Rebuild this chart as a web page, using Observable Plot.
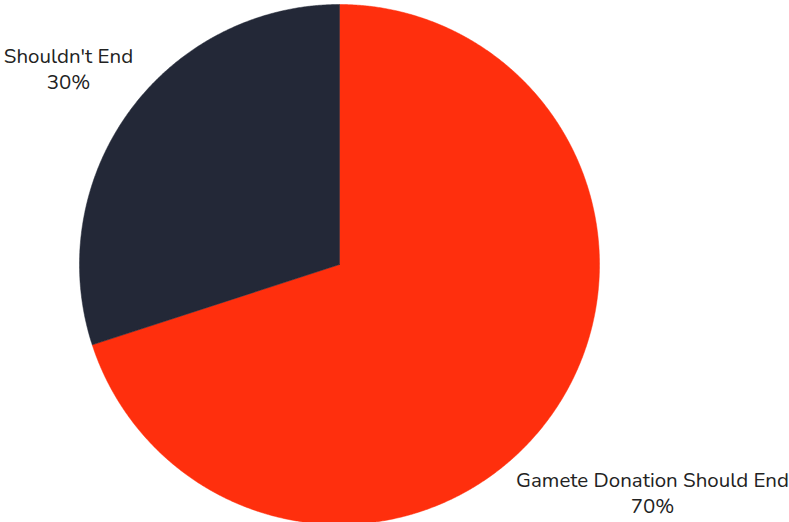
<!DOCTYPE html>
<html>
<head>
<meta charset="utf-8">
<script src="https://cdn.jsdelivr.net/npm/d3@7"></script>
<script src="https://cdn.jsdelivr.net/npm/@observablehq/plot@0.6"></script>
<style>
  html, body { margin: 0; padding: 0; background: #fff; }
  svg { display: block; }
</style>
</head>
<body>
<div id="chart"></div>
<script>
const labels = ["Gamete Donation Should End", "Shouldn't End"];
const values = [70, 30];
const colors = ["#FF2F0D", "#232837"];

const W = 789, H = 522;
const cx = 339, cy = 264, R = 260;

const pie = d3.pie().sort(null).value(d => d.value);
const arcs = pie(labels.map((l, i) => ({label: l, value: values[i]})));

const pts = [];
arcs.forEach(a => {
  const n = Math.max(4, Math.ceil((a.endAngle - a.startAngle) / 0.005));
  pts.push({label: a.data.label, x: 0, y: 0});
  for (let k = 0; k <= n; k++) {
    const t = a.startAngle + (a.endAngle - a.startAngle) * k / n;
    pts.push({label: a.data.label, x: R * Math.sin(t), y: R * Math.cos(t)});
  }
  pts.push({label: a.data.label, x: 0, y: 0});
});

const lab = arcs.map(a => {
  const m = (a.startAngle + a.endAngle) / 2;
  return {label: a.data.label, text: a.data.label + "\n" + a.data.value + "%",
          x: 335 * Math.sin(m), y: 335 * Math.cos(m)};
});
// label shifts (px) to keep labels inside the frame
const shiftX = {[labels[0]]: 42, [labels[1]]: 0};
const shiftY = {[labels[0]]: 30, [labels[1]]: 0};

const chart = Plot.plot({
  width: W, height: H,
  margin: 0,
  x: {domain: [-cx, W - cx], axis: null},
  y: {domain: [cy - H, cy], axis: null},
  color: {domain: labels, range: colors},
  style: {fontFamily: "Nunito, Lato, sans-serif", background: "#fff"},
  marks: [
    Plot.line(pts, {x: "x", y: "y", z: "label", fill: "label", stroke: "label", strokeWidth: 0.5}),
    ...lab.map(d => Plot.text([d], {x: "x", y: "y", text: "text", fill: "#222",
      fontSize: 20.5, lineHeight: 1.27, dx: shiftX[d.label], dy: shiftY[d.label]}))
  ]
});
document.getElementById("chart").appendChild(chart);
</script>
</body>
</html>
